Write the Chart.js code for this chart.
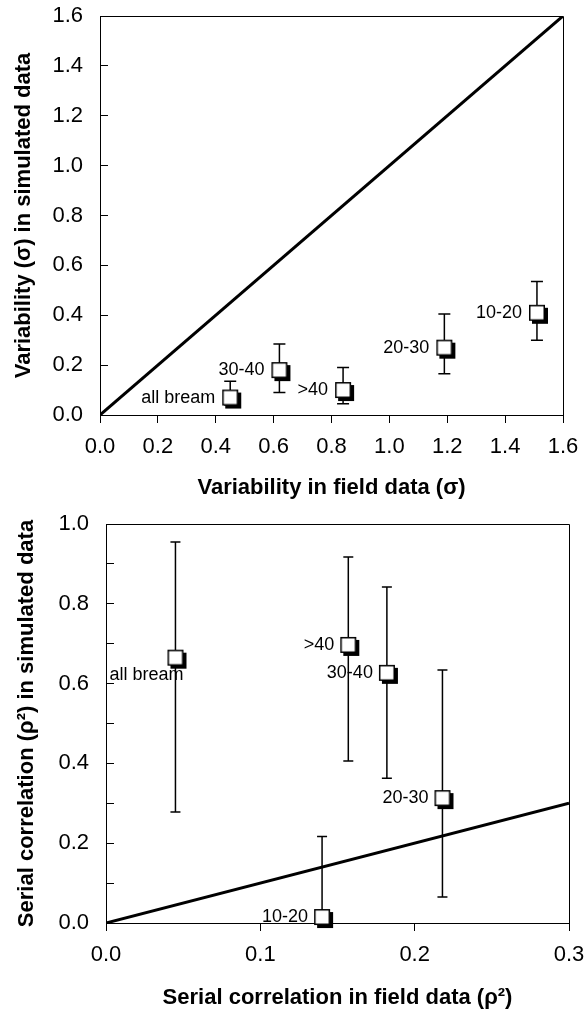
<!DOCTYPE html>
<html lang="en">
<head>
    <meta charset="UTF-8">
    <title>Variability and serial correlation: field vs simulated</title>
    <script src="https://cdn.jsdelivr.net/npm/chart.js@4.4.1/dist/chart.umd.min.js"></script>
    <style>
        html, body { margin: 0; padding: 0; background: #fff; }
        .panel { position: relative; width: 585px; }
    </style>
</head>
<body>

<div class="panel" style="height: 505px;"><canvas id="sigmaChart"></canvas></div>
<div class="panel" style="height: 508px;"><canvas id="rhoChart"></canvas></div>

<script>
    // top panel: variability (sigma)
    var sigmaGroups = ['all bream', '30-40', '>40', '20-30', '10-20'];
    var sigmaField = [0.45, 0.62, 0.84, 1.19, 1.51];
    var sigmaSim = [0.07, 0.18, 0.10, 0.27, 0.41];
    var sigmaLow = [0.04, 0.09, 0.045, 0.165, 0.30];
    var sigmaHigh = [0.135, 0.285, 0.19, 0.405, 0.535];
    var sigmaLine = [0, 1.6];

    // bottom panel: serial correlation (rho^2)
    var rhoGroups = ['all bream', '>40', '30-40', '20-30', '10-20'];
    var rhoField = [0.045, 0.157, 0.182, 0.218, 0.140];
    var rhoSim = [0.665, 0.697, 0.627, 0.313, 0.015];
    var rhoLow = [0.278, 0.406, 0.363, 0.065, -0.19];
    var rhoHigh = [0.955, 0.917, 0.842, 0.634, 0.217];
    var rhoLine = [0, 0.3];

    var FONT = "'Liberation Sans', Arial, sans-serif";

    // white square with a black drop shadow
    function makeMarker() {
        var c = document.createElement('canvas');
        c.width = 30;
        c.height = 30;
        var g = c.getContext('2d');
        g.fillStyle = '#000';
        g.fillRect(10, 10, 16, 16);
        g.fillRect(7, 7, 16, 16);
        g.fillStyle = '#fff';
        g.fillRect(8.5, 8.5, 13, 13);
        return c;
    }

    function errorBarPlugin(xs, lows, highs, cap) {
        return {
            id: 'errorBars',
            beforeDatasetsDraw: function(chart) {
                var ctx = chart.ctx, sx = chart.scales.x, sy = chart.scales.y, a = chart.chartArea;
                ctx.save();
                ctx.beginPath();
                ctx.rect(a.left, a.top, a.right - a.left, a.bottom - a.top);
                ctx.clip();
                ctx.strokeStyle = '#000';
                ctx.lineWidth = 1.5;
                for (var i = 0; i < xs.length; i++) {
                    var px = sx.getPixelForValue(xs[i]);
                    var lo = sy.getPixelForValue(lows[i]);
                    var hi = sy.getPixelForValue(highs[i]);
                    ctx.beginPath();
                    ctx.moveTo(px, lo);
                    ctx.lineTo(px, hi);
                    ctx.moveTo(px - cap, hi);
                    ctx.lineTo(px + cap, hi);
                    ctx.moveTo(px - cap, lo);
                    ctx.lineTo(px + cap, lo);
                    ctx.stroke();
                }
                ctx.restore();
            }
        };
    }

    function frameAndLabelPlugin(names, place, gap) {
        return {
            id: 'frameLabels',
            beforeDatasetsDraw: function(chart) {
                var ctx = chart.ctx, a = chart.chartArea;
                ctx.save();
                ctx.strokeStyle = '#000';
                ctx.lineWidth = 1;
                ctx.beginPath();
                ctx.moveTo(Math.round(a.left) + 0.5, Math.round(a.top) + 0.5);
                ctx.lineTo(Math.round(a.right) + 0.5, Math.round(a.top) + 0.5);
                ctx.lineTo(Math.round(a.right) + 0.5, Math.round(a.bottom) + 0.5);
                ctx.stroke();
                ctx.restore();
            },
            afterDatasetsDraw: function(chart) {
                var ctx = chart.ctx;
                var meta = chart.getDatasetMeta(0);
                ctx.save();
                ctx.font = '18px ' + FONT;
                ctx.fillStyle = '#000';
                ctx.textBaseline = 'middle';
                ctx.textAlign = 'right';
                meta.data.forEach(function(pt, i) {
                    if (place[i] === 'below') {
                        ctx.fillText(names[i], pt.x + 8, pt.y + 17);
                    } else {
                        ctx.fillText(names[i], pt.x - gap, pt.y);
                    }
                });
                ctx.restore();
            }
        };
    }

    function axisX(min, max, step, titleText, titlePad, height) {
        return {
            type: 'linear',
            position: 'bottom',
            min: min,
            max: max,
            ticks: {
                stepSize: step,
                color: '#000',
                font: { family: FONT, size: 22 },
                padding: 11,
                maxRotation: 0,
                autoSkip: false,
                callback: function(v) { return Number(v).toFixed(1); }
            },
            grid: { drawOnChartArea: false, tickLength: 8, color: '#000', lineWidth: 1 },
            border: { color: '#000', width: 1 },
            title: {
                display: true,
                text: titleText,
                color: '#000',
                font: { family: FONT, size: 22, weight: 'bold' },
                padding: { top: 0, bottom: titlePad }
            },
            afterFit: function(s) {
                s.height = height;
                s.paddingLeft = 0;
                s.paddingRight = 0;
            }
        };
    }

    function axisY(min, max, step, everyOther, titleText, titlePad, width) {
        return {
            type: 'linear',
            min: min,
            max: max,
            ticks: {
                stepSize: step,
                color: '#000',
                font: { family: FONT, size: 22 },
                padding: 25,
                autoSkip: false,
                callback: function(v) {
                    if (everyOther && Math.round(v * 10) % 2 !== 0) return '';
                    return Number(v).toFixed(1);
                }
            },
            grid: { drawOnChartArea: false, tickLength: -8, color: '#000', lineWidth: 1 },
            border: { color: '#000', width: 1 },
            title: {
                display: true,
                text: titleText,
                color: '#000',
                font: { family: FONT, size: 22, weight: 'bold' },
                padding: { top: titlePad, bottom: 0 }
            },
            afterFit: function(s) {
                s.width = width;
                s.paddingTop = 0;
                s.paddingBottom = 0;
            }
        };
    }

    function makePanel(id, opts) {
        var points = opts.xs.map(function(x, i) { return { x: x, y: opts.ys[i] }; });
        var diag = opts.line.map(function(v) { return { x: v, y: v }; });
        return new Chart(document.getElementById(id), {
            type: 'scatter',
            data: {
                datasets: [{
                    data: points,
                    pointStyle: makeMarker(),
                    pointRadius: 8,
                    clip: false
                }, {
                    type: 'line',
                    data: diag,
                    borderColor: '#000',
                    borderWidth: 3,
                    pointRadius: 0,
                    fill: false
                }]
            },
            options: {
                responsive: true,
                maintainAspectRatio: false,
                animation: false,
                devicePixelRatio: 1,
                layout: { padding: opts.padding },
                plugins: { legend: { display: false }, tooltip: { enabled: false } },
                scales: { x: opts.x, y: opts.y }
            },
            plugins: [
                errorBarPlugin(opts.xs, opts.low, opts.high, opts.cap),
                frameAndLabelPlugin(opts.names, opts.place, opts.gap)
            ]
        });
    }

    makePanel('sigmaChart', {
        xs: sigmaField, ys: sigmaSim, low: sigmaLow, high: sigmaHigh, line: sigmaLine,
        names: sigmaGroups, place: ['left', 'left', 'left', 'left', 'left'], gap: 15, cap: 6,
        padding: { top: 16, right: 22, left: 0, bottom: 0 },
        x: axisX(0, 1.6, 0.2, 'Variability in field data (σ)', 4, 90),
        y: axisY(0, 1.6, 0.2, false, 'Variability (σ) in simulated data', 11, 100)
    });

    makePanel('rhoChart', {
        xs: rhoField, ys: rhoSim, low: rhoLow, high: rhoHigh, line: rhoLine,
        names: rhoGroups, place: ['below', 'left', 'left', 'left', 'left'], gap: 14, cap: 5,
        padding: { top: 19, right: 16, left: 0, bottom: 0 },
        x: axisX(0, 0.3, 0.1, 'Serial correlation in field data (ρ²)', 2, 90),
        y: axisY(0, 1.0, 0.1, true, 'Serial correlation (ρ²) in simulated data', 14, 106)
    });
</script>

</body>
</html>
